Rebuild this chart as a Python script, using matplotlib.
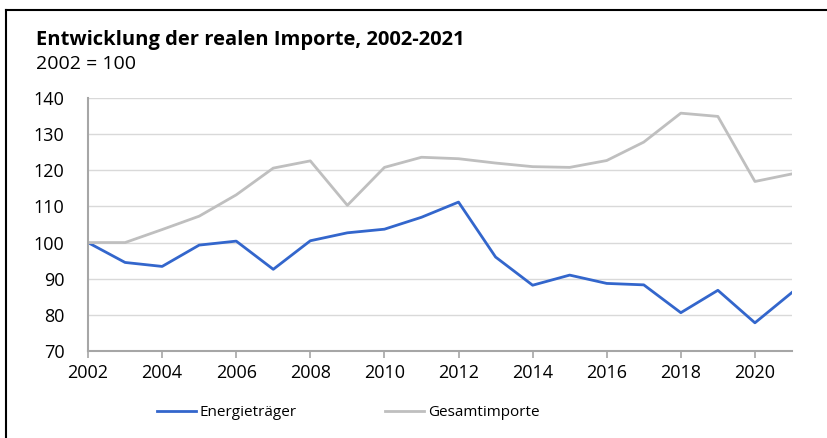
import matplotlib
matplotlib.use('Agg')
import matplotlib.pyplot as plt
from matplotlib.lines import Line2D

plt.rcParams['font.family'] = ['Open Sans', 'DejaVu Sans']

years = list(range(2002, 2022))
energie = [100.0, 94.5, 93.4, 99.3, 100.4, 92.6, 100.5, 102.7, 103.7, 107.0,
           111.2, 96.0, 88.2, 91.0, 88.7, 88.3, 80.6, 86.8, 77.8, 86.2]
gesamt = [100.0, 100.0, 103.6, 107.3, 113.2, 120.6, 122.6, 110.3, 120.8, 123.6,
          123.2, 122.0, 121.0, 120.8, 122.7, 127.8, 135.8, 134.9, 116.9, 119.0]
yticks = [70, 80, 90, 100, 110, 120, 130, 140]
xticks = list(range(2002, 2021, 2))

BLUE = '#3366cc'
GREY = '#bfbfbf'
AXIS = '#a6a6a6'

fig = plt.figure(figsize=(8.28, 4.38), dpi=100)
ax = fig.add_axes([0.1063, 0.1986, 0.8502, 0.5777])

ax.plot(years, energie, color=BLUE, lw=2, label='Energieträger')
ax.plot(years, gesamt, color=GREY, lw=2, label='Gesamtimporte')

ax.set_xlim(2002, 2021)
ax.set_ylim(70, 140)
ax.set_yticks(yticks)
ax.set_xticks(xticks)
ax.grid(axis='y', color='#d9d9d9', lw=1)
ax.set_axisbelow(True)
for s in ['top', 'right']:
    ax.spines[s].set_visible(False)
for s in ['left', 'bottom']:
    ax.spines[s].set_color(AXIS)
    ax.spines[s].set_linewidth(1.5)
ax.tick_params(axis='y', length=0, pad=17, labelsize=13)
ax.tick_params(axis='x', length=5, width=1.2, color=AXIS, pad=4, labelsize=13)

# title and subtitle
fig.text(36 / 828, 1 - 40 / 438, 'Entwicklung der realen Importe, 2002-2021',
         fontsize=14.5, fontweight='bold', va='center', ha='left')
fig.text(36 / 828, 1 - 64 / 438, '2002 = 100', fontsize=14, va='center', ha='left')

fig.legend(loc='center', bbox_to_anchor=(348 / 828, 1 - 413 / 438), ncol=2,
           frameon=False, fontsize=11, handlelength=2.55, handletextpad=0.26,
           columnspacing=5.76)

# frame line along top and left
fig.add_artist(Line2D([6 / 828, 1], [1 - 10 / 438, 1 - 10 / 438], color='black', lw=1.5,
                      transform=fig.transFigure))
fig.add_artist(Line2D([6 / 828, 6 / 828], [0, 1 - 10 / 438], color='black', lw=1.5,
                      transform=fig.transFigure))

fig.savefig('out.png', dpi=100)
